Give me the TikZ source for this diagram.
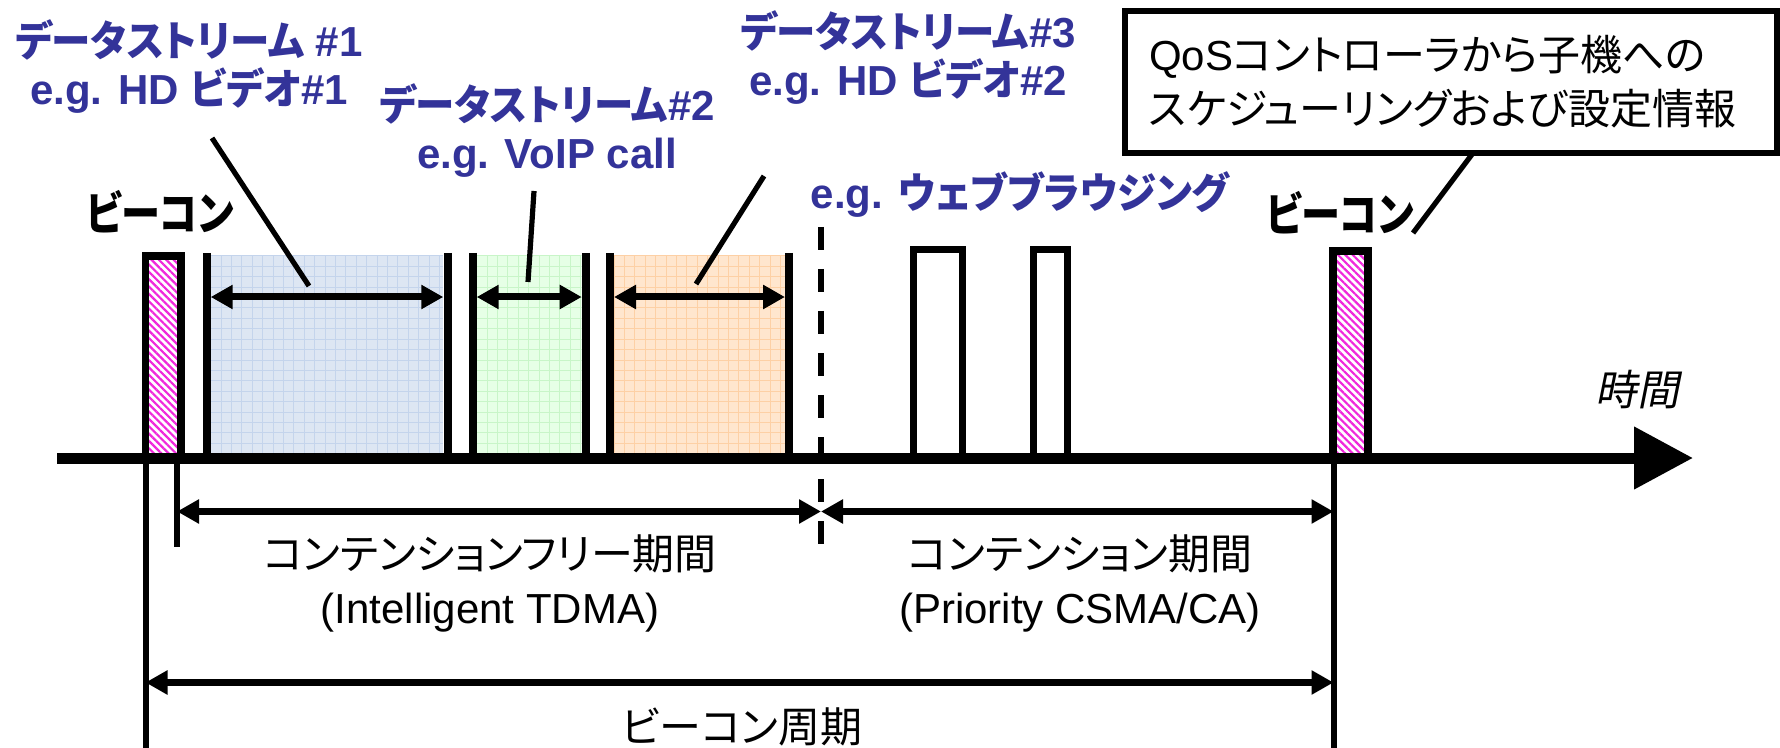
\documentclass[tikz,border=0pt]{standalone}
\usepackage{fontspec}
\setmainfont{Liberation Sans}
\newfontfamily\jpfont[RawFeature=+palt]{Noto Sans CJK JP}
\newfontfamily\jpnarrowfont[RawFeature=+palt,FakeStretch=0.94]{Noto Sans CJK JP}
\newfontfamily\jpbeaconfont[RawFeature=+palt,FakeStretch=0.85]{Noto Sans CJK JP}
\newfontfamily\jpslfont[FakeSlant=0.2]{Noto Sans CJK JP}
\newcommand\jtxt[1]{{\jpfont #1}}
\newcommand\jntxt[1]{{\jpnarrowfont #1}}
\usetikzlibrary{arrows.meta,patterns.meta}
\definecolor{streamblue}{RGB}{51,51,153}
\definecolor{bluefill}{RGB}{221,230,243}
\definecolor{bluegrid}{RGB}{196,212,236}
\definecolor{greenfill}{RGB}{230,255,230}
\definecolor{greengrid}{RGB}{200,245,200}
\definecolor{orangefill}{RGB}{255,230,206}
\definecolor{orangegrid}{RGB}{253,208,165}
\definecolor{beaconpink}{RGB}{240,40,220}

% light fill with a fine grid for one time slot: fill, grid, left x, right x
\newcommand\slotfill[4]{%
  \begin{scope}
    \clip (#3,256) rectangle (#4,458);
    \fill[#1] (#3,256) rectangle (#4,458);
    \foreach \k in {0,...,24} {
      \draw[#2,line width=0.5pt] ({#3+\k*10.4},256) -- ({#3+\k*10.4},458);
      \draw[#2,line width=0.5pt] (#3,{256+\k*10.4}) -- (#4,{256+\k*10.4});
    }
  \end{scope}}

\begin{document}
\begin{tikzpicture}[x=0.5pt,y=-0.5pt,
  axisline/.style={line width=5.5pt,-{Triangle[length=29.5pt,width=30pt]}},
  slotbar/.style={line width=4pt},
  span/.style={line width=3.5pt,{Triangle[length=11pt,width=11.5pt]}-{Triangle[length=11pt,width=11.5pt]}},
  leader/.style={line width=2.6pt},
  tickline/.style={line width=3pt},
  beaconbox/.style={draw,line width=3.75pt,pattern={Lines[angle=-45,distance=2.6pt,line width=1.1pt]},pattern color=beaconpink},
  webbox/.style={draw,line width=3.5pt,fill=white},
  streamlabel/.style={text=streamblue,font=\bfseries\fontsize{21pt}{24pt}\selectfont,align=center,inner sep=0pt},
  beaconlabel/.style={font=\bfseries\jpbeaconfont\fontsize{23pt}{26pt}\selectfont,inner sep=0pt},
  periodlabel/.style={font=\fontsize{21pt}{27pt}\selectfont,align=center,inner sep=0pt},
]
\useasboundingbox (0,0) rectangle (1780,748);

% time slots of the contention-free period
\slotfill{bluefill}{bluegrid}{210.7}{443.3}
\slotfill{greenfill}{greengrid}{476.7}{581.7}
\slotfill{orangefill}{orangegrid}{614}{785}

\foreach \x in {206.7,447.5,472.5,585.5,610,789}
  \draw[slotbar] (\x,253) -- (\x,458);

% beacon frames
\draw[beaconbox] (145.5,256) rectangle (180.8,458);
\draw[beaconbox] (1333,251) rectangle (1368,458);

% contention period traffic
\draw[webbox] (913,458) -- (913,250) -- (962,250) -- (962,458);
\draw[webbox] (1033.5,458) -- (1033.5,250) -- (1067.7,250) -- (1067.7,458);

% boundary between the two periods
\draw[line width=3pt,dash pattern=on 11.5pt off 9.5pt] (821,227) -- (821,545);

% time axis
\coordinate (axL) at (57,458);
\coordinate (axR) at (1693,458);
\draw[axisline] (axL) -- (axR);
\node[font=\jpslfont\fontsize{21pt}{24pt}\selectfont,inner sep=0pt] (timelbl) at (1637,390) {時間};

% slot widths
\coordinate (s1L) at (210.7,297); \coordinate (s1R) at (443.3,297);
\coordinate (s2L) at (476.7,297); \coordinate (s2R) at (581.7,297);
\coordinate (s3L) at (614,297);   \coordinate (s3R) at (785,297);
\draw[span] (s1L) -- (s1R);
\draw[span] (s2L) -- (s2R);
\draw[span] (s3L) -- (s3R);

% stream labels
\node[streamlabel] (ds1) at (189,67) {\jntxt{データストリーム} \#1\\e.g. HD \jntxt{ビデオ}\#1};
\node[streamlabel] (ds2) at (547,131) {\jntxt{データストリーム}\#2\\e.g. VoIP call};
\node[streamlabel] (ds3) at (908,58) {\jntxt{データストリーム}\#3\\e.g. HD \jntxt{ビデオ}\#2};
\node[streamlabel] (web) at (1020,195) {e.g. \jntxt{ウェブブラウジング}};

\coordinate (l1a) at (212,138); \coordinate (l1b) at (309,286);
\coordinate (l2a) at (534,191); \coordinate (l2b) at (528,282);
\coordinate (l3a) at (764,176); \coordinate (l3b) at (696,284);
\draw[leader] (l1a) -- (l1b);
\draw[leader] (l2a) -- (l2b);
\draw[leader] (l3a) -- (l3b);

% beacon labels and the information box
\node[beaconlabel] (bcn1) at (160,212) {ビーコン};
\node[beaconlabel] (bcn2) at (1340,213) {ビーコン};
\node[draw,line width=2.75pt,minimum width=326pt,minimum height=71pt,
      text width=302pt,inner xsep=12pt,inner ysep=0pt,align=left,
      font=\jpfont\fontsize{21pt}{27pt}\selectfont] (qos) at (1451,82)
  {{\rmfamily QoS}コントローラから子機への\\スケジューリングおよび設定情報};
\coordinate (l4a) at (1473,153); \coordinate (l4b) at (1413,233);
\draw[leader] (l4a) -- (l4b);

% period markers below the axis
\coordinate (pA0) at (145.5,463); \coordinate (pA1) at (145.5,748);
\coordinate (pB0) at (177,463);   \coordinate (pB1) at (177,547);
\coordinate (pC0) at (1333.5,463);\coordinate (pC1) at (1333.5,748);
\draw[tickline] (pA0) -- (pA1);
\draw[tickline] (pB0) -- (pB1);
\draw[tickline] (pC0) -- (pC1);

\coordinate (cfL) at (177,511.5);  \coordinate (cfR) at (821,511.5);
\coordinate (ctL) at (821,511.5);  \coordinate (ctR) at (1333.5,511.5);
\coordinate (bpL) at (145.5,682.5);\coordinate (bpR) at (1333.5,682.5);
\draw[span] (cfL) -- (cfR);
\draw[span] (ctR) -- (ctL);
\draw[span] (bpL) -- (bpR);

\node[periodlabel] (cflbl) at (490,583) {\jtxt{コンテンションフリー期間}\\(Intelligent TDMA)};
\node[periodlabel] (ctlbl) at (1080,583) {\jtxt{コンテンション期間}\\(Priority CSMA/CA)};
\node[periodlabel] (bplbl) at (742,727) {\jtxt{ビーコン周期}};
\end{tikzpicture}
\end{document}
